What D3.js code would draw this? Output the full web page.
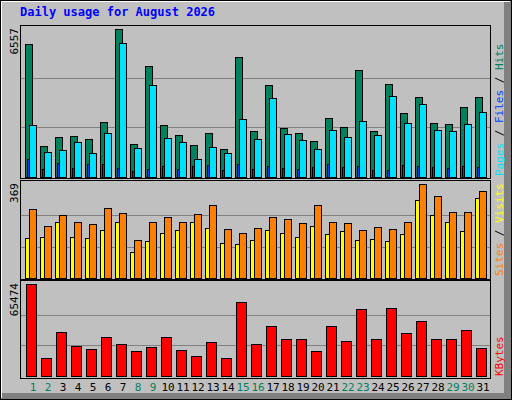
<!DOCTYPE html><html><head><meta charset="utf-8">
<script src="https://cdn.jsdelivr.net/npm/d3@7"></script>
<style>body{margin:0;background:#fff}svg{display:block}text{font-family:"DejaVu Sans Mono",monospace}</style>
</head><body><svg id="c" width="512" height="400"></svg>
<script>
const days = d3.range(1,32);
const weekendDays = [1,2,8,9,15,16,22,23,29,30];
const hits = [5890,1350,1751,1795,1662,2418,6557,1439,4910,2285,1840,1394,1929,1216,5311,2018,4065,2151,1929,1573,2596,2196,4732,2018,4109,2819,3531,2374,2329,3086,3531];
const files = [2285,1083,1172,1528,1038,1929,5934,1261,4065,1706,1528,771,1305,1038,2552,1662,3486,1884,1617,1216,2062,1751,2463,1840,3575,2374,3219,2062,2018,2329,2863];
const pages = [771,326,593,371,549,549,371,237,326,460,326,460,504,282,549,326,460,371,326,415,549,415,460,282,282,504,460,415,371,460,415];
const visits = [270,203,246,219,211,274,254,148,219,238,219,250,285,191,175,195,238,230,215,285,219,215,187,199,191,219,368,321,258,258,340];
const sites = [156,160,219,160,156,187,219,101,144,175,187,219,195,136,132,148,187,175,160,203,172,183,148,152,144,172,305,246,219,183,313];
const kbytes = [65474,13145,31070,21749,19598,28202,23183,18164,21032,28202,18881,14579,24617,13145,52580,23183,35372,26768,26768,18164,35372,25334,47561,26768,48278,30353,38957,26768,26768,32504,20315];
const maxLabels = ["6557","369","65474"];

const svg = d3.select("#c");
// frame
svg.append("rect").attr("x",0).attr("y",0).attr("width",512).attr("height",400).attr("fill","#c0c0c0");
svg.append("rect").attr("x",504).attr("y",0).attr("width",8).attr("height",400).attr("fill","#808080");
svg.append("rect").attr("x",0).attr("y",393).attr("width",512).attr("height",7).attr("fill","#808080");
svg.append("path").attr("d","M0.5,399.5V0.5H511.5").attr("stroke","#fff").attr("fill","none");
svg.append("path").attr("d","M1.5,398V1.5H510").attr("stroke","#fff").attr("fill","none");
svg.append("rect").attr("x",0.5).attr("y",0.5).attr("width",511).attr("height",399).attr("fill","none").attr("stroke","#000");
svg.append("text").attr("x",20).attr("y",16).attr("fill","#0000ff").attr("font-weight","bold").attr("font-size",12).text("Daily usage for August 2026");

const x = d3.scaleBand().domain(days).range([20,485]).paddingInner(0);
// bw = 15
const panels = [
 {top:25,bottom:178,base:176.5,maxY:29,max:6557},
 {top:180,bottom:279,base:278,maxY:184,max:369},
 {top:280,bottom:378,base:376,maxY:284.3,max:65474}
];
const ys = panels.map(p=>d3.scaleLinear().domain([0,p.max]).range([p.base,p.maxY]));
panels.forEach((p,i)=>{
  svg.append("rect").attr("x",20.5).attr("y",p.top+0.5).attr("width",470).attr("height",p.bottom-p.top).attr("fill","#c0c0c0").attr("stroke","#000");
  [1/3,2/3].forEach(f=>{
    const yy=Math.round(ys[i](p.max*f))+0.5;
    svg.append("line").attr("x1",21).attr("x2",490).attr("y1",yy).attr("y2",yy).attr("stroke","#808080");
  });
  svg.append("text").attr("transform",`translate(18,${p.top+3}) rotate(-90)`).attr("text-anchor","end").attr("font-size",11).attr("fill","#000").text(maxLabels[i]);
});
function bars(data, yi, off, w, color){
  svg.append("g").selectAll("rect").data(data).join("rect")
   .attr("x",(d,k)=>x(days[k])+off+0.5).attr("width",w)
   .attr("y",d=>Math.round(ys[yi](d))+0.5).attr("height",d=>Math.max(0,Math.round(ys[yi](0))-Math.round(ys[yi](d))))
   .attr("fill",color).attr("stroke","#000");
}
bars(hits,0,5,7,"#00805c");
bars(files,0,9,7,"#00e0ff");
bars(pages,0,7,2,"#0040ff");
bars(sites,1,5,4,"#ffff00");
bars(visits,1,9,7,"#ff8000");
bars(kbytes,2,6,10,"#ff0000");

svg.append("g").selectAll("text").data(days).join("text")
 .attr("x",d=>x(d)+13).attr("y",391).attr("text-anchor","middle").attr("font-size",11)
 .attr("fill",d=>weekendDays.includes(d)?"#00805c":"#000").text(d=>d);

function rlabel(parts, yBottom){
  const t=svg.append("text").attr("transform",`translate(503,${yBottom}) rotate(-90)`).attr("font-size",11);
  parts.forEach(p=>t.append("tspan").attr("fill",p[1]).text(p[0]));
}
rlabel([["Pages","#00e0ff"],[" / ","#000"],["Files","#0040ff"],[" / ","#000"],["Hits","#00805c"]],176);
rlabel([["Sites","#ff8000"],[" / ","#000"],["Visits","#ffff00"]],276);
rlabel([["KBytes","#ff0000"]],376);
</script></body></html>
